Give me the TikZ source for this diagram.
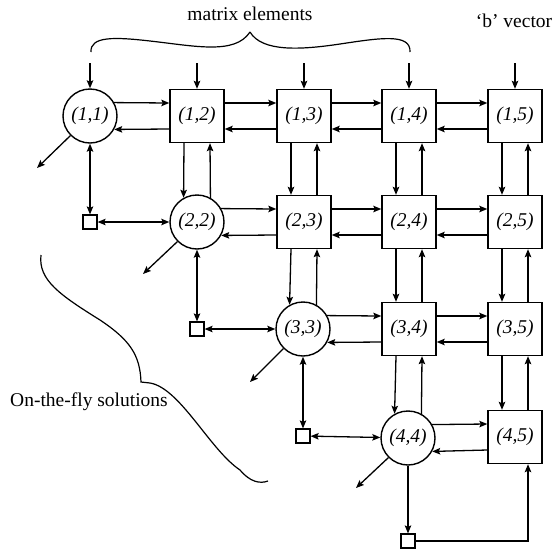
\documentclass[tikz,border=0pt]{standalone}
\usepackage{fontspec}
\setmainfont{Liberation Serif}
\usetikzlibrary{arrows.meta,calc}
\begin{document}
\begin{tikzpicture}[x=1pt,y=-1pt,
  lbl/.style={font=\fontsize{19.5}{22}\selectfont,inner sep=0pt},
  cnode/.style={draw,circle,line width=1.4pt,minimum size=54pt,inner sep=0pt,font=\fontsize{19.5}{22}\selectfont\itshape},
  bnode/.style={draw,rectangle,line width=1.4pt,minimum width=54pt,minimum height=53pt,inner sep=0pt,font=\fontsize{19.5}{22}\selectfont\itshape},
  snode/.style={draw,rectangle,line width=1.2pt,minimum size=14pt,inner sep=0pt},
  arr/.style={line width=1.3pt,-{Stealth[length=8pt,width=6.5pt,inset=1.5pt]}},
  darr/.style={line width=1.3pt,{Stealth[length=8pt,width=6.5pt,inset=1.5pt]}-{Stealth[length=8pt,width=6.5pt,inset=1.5pt]}},
  brace/.style={line width=1.2pt}]
\useasboundingbox (0,0) rectangle (557,550);
\newcommand\hbb[2]{%
  \draw[arr] ([yshift=13pt]#1.east) -- ([yshift=13pt]#2.west);
  \draw[arr] ([yshift=-13pt]#2.west) -- ([yshift=-13pt]#1.east);}
\newcommand\vbb[2]{%
  \draw[arr] ([xshift=-13pt]#1.south) -- ([xshift=-13pt]#2.north);
  \draw[arr] ([xshift=13pt]#2.north) -- ([xshift=13pt]#1.south);}
\newcommand\hcb[2]{%
  \draw[arr] (#1.29) -- ([yshift=13pt]#2.west);
  \draw[arr] ([yshift=-13pt]#2.west) -- (#1.331);}
\newcommand\vbc[2]{%
  \draw[arr] ([xshift=-13pt]#1.south) -- (#2.119);
  \draw[arr] (#2.61) -- ([xshift=13pt]#1.south);}
% nodes
\node[cnode] (n11) at (90,116) {(1,1)};
\node[bnode] (n12) at (197,116) {(1,2)};
\node[bnode] (n13) at (304,116) {(1,3)};
\node[bnode] (n14) at (409,116) {(1,4)};
\node[bnode] (n15) at (515,116) {(1,5)};
\node[cnode] (n22) at (197,222) {(2,2)};
\node[bnode] (n23) at (304,222) {(2,3)};
\node[bnode] (n24) at (409,222) {(2,4)};
\node[bnode] (n25) at (515,222) {(2,5)};
\node[cnode] (n33) at (303,329) {(3,3)};
\node[bnode] (n34) at (409,329) {(3,4)};
\node[bnode] (n35) at (515,329) {(3,5)};
\node[cnode] (n44) at (408,438) {(4,4)};
\node[bnode] (n45) at (515,437) {(4,5)};
\node[snode] (s2) at (90,222) {};
\node[snode] (s3) at (197,329) {};
\node[snode] (s4) at (303,436) {};
\node[snode] (s5) at (408,541) {};
% labels
\node[lbl,anchor=base] (lm) at (250,20) {matrix elements};
\node[lbl,anchor=base] (lb) at (514,27) {‘b’ vector};
\node[lbl,anchor=base west] (lo) at (10,406) {On-the-fly solutions};
% input arrows
\coordinate (i1) at (90,63);
\coordinate (i2) at (197,63);
\coordinate (i3) at (304,63);
\coordinate (i4) at (409,63);
\coordinate (i5) at (515,63);
\draw[arr] (i1) -- (n11);
\draw[arr] (i2) -- (n12);
\draw[arr] (i3) -- (n13);
\draw[arr] (i4) -- (n14);
\draw[arr] (i5) -- (n15);
% horizontal pairs
\hcb{n11}{n12}
\hbb{n12}{n13}
\hbb{n13}{n14}
\hbb{n14}{n15}
\hcb{n22}{n23}
\hbb{n23}{n24}
\hbb{n24}{n25}
\hcb{n33}{n34}
\hbb{n34}{n35}
\hcb{n44}{n45}
% vertical pairs
\vbc{n12}{n22}
\vbb{n13}{n23}
\vbb{n14}{n24}
\vbb{n15}{n25}
\vbc{n23}{n33}
\vbb{n24}{n34}
\vbb{n25}{n35}
\vbc{n34}{n44}
\vbb{n35}{n45}
% outputs of diagonal
\coordinate (o1) at (37,168);
\coordinate (o2) at (143,274);
\coordinate (o3) at (250,382);
\coordinate (o4) at (356,488);
\draw[arr] (n11.225) -- (o1);
\draw[arr] (n22.225) -- (o2);
\draw[arr] (n33.225) -- (o3);
\draw[arr] (n44.225) -- (o4);
% solution squares
\draw[darr] (n11) -- (s2);
\draw[darr] (s2) -- (n22);
\draw[darr] (n22) -- (s3);
\draw[darr] (s3) -- (n33);
\draw[darr] (n33) -- (s4);
\draw[darr] (s4) -- (n44);
\draw[arr] (n44) -- (s5);
\draw[arr] (s5.east) -| ([xshift=13pt]n45.south);
% braces
\draw[brace] (91,52) .. controls (90,36) and (115,37) .. (150,41)
  .. controls (195,46) and (235,55) .. (250,32);
\draw[brace] (250,32) .. controls (262,52) and (300,50) .. (340,44)
  .. controls (380,38) and (411,33) .. (410,52);
\draw[brace] (41,255) .. controls (38,280) and (60,295) .. (100,320)
  .. controls (130,340) and (140,355) .. (141,382) -- (150,383)
  .. controls (180,388) and (210,450) .. (240,470)
  .. controls (250,482) and (260,484) .. (268,481);
\end{tikzpicture}
\end{document}
